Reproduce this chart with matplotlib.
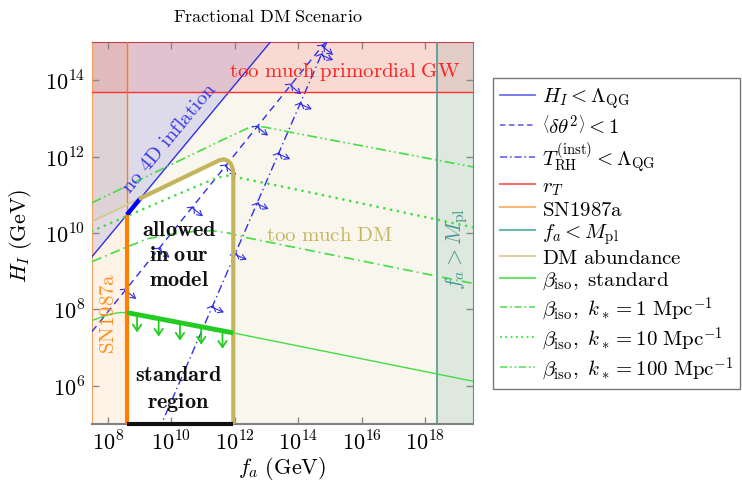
import numpy as np
import matplotlib
matplotlib.use('Agg')
import matplotlib.pyplot as plt
from matplotlib.lines import Line2D
from matplotlib.markers import MarkerStyle
from matplotlib.path import Path
from matplotlib.transforms import Affine2D
from matplotlib.ticker import NullLocator

plt.rcParams['mathtext.fontset'] = 'cm'
plt.rcParams['font.family'] = ['DejaVu Serif']

# ---------------- data (log10 of GeV values) ----------------
x_range = [7.5, 19.5]          # log10 f_a
y_range = [5.0, 15.0]          # log10 H_I
x_ticks = [8, 10, 12, 14, 16, 18]
y_ticks = [6, 8, 10, 12, 14]

hqg_logfa = [7.5, 13.5]        # H_I < Lambda_QG
hqg_logH = [9.38, 15.38]

dtheta_logfa = [7.5, 15.0]     # <dtheta^2> < 1
dtheta_logH = [7.42, 15.15]

trh_logfa = [9.6, 15.0]        # T_RH < Lambda_QG
trh_logH = [4.83, 15.2]

rT_logH = 13.68                # r_T
sn_logfa = 8.6                 # SN1987a
mpl_logfa = 18.38              # f_a < M_pl

dm_logfa = [7.5, 9.0, 10.5, 11.5, 11.65, 11.78, 11.88, 11.93, 11.95, 11.95]
dm_logH = [10.30, 10.90, 11.50, 11.90, 11.93, 11.89, 11.80, 11.68, 11.50, 5.0]

std_logfa = [7.5, 7.8, 8.1, 8.4, 8.64, 11.92, 19.5]
std_logH = [7.71, 7.80, 7.88, 7.92, 7.91, 7.39, 6.12]

k1_logfa = [7.5, 8.5, 9.25, 10.0, 10.7, 11.3, 11.8, 12.3, 19.5]
k1_logH = [9.25, 9.60, 9.85, 9.97, 10.04, 10.06, 10.00, 9.89, 8.68]

k10_logfa = [7.5, 10.5, 11.45, 11.75, 12.05, 14.05, 19.5]
k10_logH = [10.05, 11.12, 11.45, 11.50, 11.46, 11.12, 10.15]

k100_logfa = [7.5, 11.64, 12.45, 12.7, 12.95, 14.05, 19.5]
k100_logH = [10.79, 12.45, 12.76, 12.80, 12.77, 12.59, 11.73]

std_arrow_logfa = [8.92, 9.6, 10.27, 10.94, 11.61]
dtheta_mark_logfa = [8.55, 9.6, 10.65, 11.7, 12.7, 13.75, 14.75]
trh_mark_logfa = [11.28, 12.0, 12.69, 13.37, 14.05, 14.72]

legend_labels = [
    r"$H_I < \Lambda_{\rm QG}$",
    r"$\left\langle \delta\theta^2 \right\rangle < 1$",
    r"$T_{\rm RH}^{\rm (inst)} < \Lambda_{\rm QG}$",
    r"$r_T$",
    r"$\mathrm{SN1987a}$",
    r"$f_a < M_{\rm pl}$",
    r"$\mathrm{DM\ abundance}$",
    r"$\beta_{\rm iso},\ \mathrm{standard}$",
    r"$\beta_{\rm iso},\ k_* = 1\ \mathrm{Mpc}^{-1}$",
    r"$\beta_{\rm iso},\ k_* = 10\ \mathrm{Mpc}^{-1}$",
    r"$\beta_{\rm iso},\ k_* = 100\ \mathrm{Mpc}^{-1}$",
]

# ---------------- styles ----------------
BLUE = '#2f2fe6'
RED = '#ff3030'
ORANGE = '#ff8000'
TEAL = '#4a9a90'
OLIVE = '#c4b45c'
OLIVE_L = '#d6ca94'
GREEN = '#44dd44'

def P(a):
    return 10.0 ** np.asarray(a, dtype=float)

W, H = 742, 485
fig = plt.figure(figsize=(W / 100, H / 100), dpi=100)
ax = fig.add_axes([92 / W, 60 / H, 381 / W, 382 / H])
ax.set_xscale('log')
ax.set_yscale('log')
ax.set_xlim(P(x_range[0]), P(x_range[1]))
ax.set_ylim(P(y_range[0]), P(y_range[1]))

# ---------------- shaded regions ----------------
dm_poly = list(zip(dm_logfa, dm_logH)) + [(x_range[1], y_range[0]), (x_range[1], y_range[1]),
                                          (x_range[0], y_range[1])]
dm_poly = np.array(dm_poly)
ax.fill(P(dm_poly[:, 0]), P(dm_poly[:, 1]), color='#c8bd70', alpha=0.12, lw=0, zorder=0)
ax.axvspan(P(x_range[0]), P(sn_logfa), color=ORANGE, alpha=0.09, lw=0, zorder=0)
ax.axvspan(P(mpl_logfa), P(x_range[1]), color=TEAL, alpha=0.15, lw=0, zorder=0)
bp = np.array([(hqg_logfa[0], hqg_logH[0]), (hqg_logfa[1], hqg_logH[1]), (hqg_logfa[0], hqg_logH[1])])
ax.fill(P(bp[:, 0]), P(bp[:, 1]), color='#2020d0', alpha=0.12, lw=0, zorder=0)
ax.axhspan(P(rT_logH), P(y_range[1]), color='#ff2020', alpha=0.13, lw=0, zorder=0)

# ---------------- lines ----------------
ax.plot(P(hqg_logfa), P(hqg_logH), color=BLUE, lw=1.0, zorder=3)
ax.plot(P(dtheta_logfa), P(dtheta_logH), color=BLUE, lw=1.0, ls=(0, (5, 3.5)), zorder=3)
ax.plot(P(trh_logfa), P(trh_logH), color=BLUE, lw=1.0, ls=(0, (6, 2.5, 1, 2.5)), zorder=3)
ax.axhline(P(rT_logH), color=RED, lw=1.0, zorder=3)
ax.axvline(P(sn_logfa), color=ORANGE, lw=1.0, zorder=3)
ax.axvline(P(mpl_logfa), color=TEAL, lw=1.2, zorder=3)

ax.plot(P(dm_logfa), P(dm_logH), color=OLIVE_L, lw=1.5, zorder=3)

ax.plot(P(k1_logfa), P(k1_logH), color=GREEN, lw=1.2, ls=(0, (6, 2.5, 1, 2.5)), zorder=3)
ax.plot(P(k10_logfa), P(k10_logH), color=GREEN, lw=2.0, ls=(0, (0.01, 2.5)), zorder=3,
        dash_capstyle='round')
ax.plot(P(k100_logfa), P(k100_logH), color=GREEN, lw=1.2, ls=(0, (6, 2, 1, 2, 1, 2)), zorder=3)
ax.plot(P(std_logfa), P(std_logH), color=GREEN, lw=1.0, zorder=3)

# allowed-region boundaries
grid = np.linspace(sn_logfa, dm_logfa[-3], 2000)
hqg_g = np.interp(grid, hqg_logfa, hqg_logH)
dm_g = np.interp(grid, dm_logfa[:-1], dm_logH[:-1])
cross = grid[np.argmax(hqg_g >= dm_g)]
ax.plot(P([sn_logfa, cross]), P(np.interp([sn_logfa, cross], hqg_logfa, hqg_logH)),
        color='#0000ff', lw=3.2, zorder=5, solid_capstyle='butt')
thick_fa = [cross] + [v for v in dm_logfa if v > cross]
thick_H = [float(np.interp(cross, dm_logfa[:-1], dm_logH[:-1]))] + \
    [h for v, h in zip(dm_logfa, dm_logH) if v > cross]
ax.plot(P(thick_fa), P(thick_H), color=OLIVE, lw=3.0, zorder=5, solid_joinstyle='round')
ax.plot(P([sn_logfa, sn_logfa]), P([y_range[0], np.interp(sn_logfa, hqg_logfa, hqg_logH)]),
        color=ORANGE, lw=3.0, zorder=5, solid_capstyle='butt')
ax.plot(P([sn_logfa, dm_logfa[-1]]), P([y_range[0], y_range[0]]), color='#111111', lw=3.0,
        zorder=6, clip_on=False, solid_capstyle='butt')
sg = np.linspace(sn_logfa, dm_logfa[-1], 50)
ax.plot(P(sg), P(np.interp(sg, std_logfa, std_logH)), color='#22cc22', lw=3.5, zorder=5,
        solid_capstyle='butt')

# green arrows
for a in std_arrow_logfa:
    h0 = np.interp(a, std_logfa, std_logH)
    ax.annotate('', xy=(P(a), P(h0 - 0.47)), xytext=(P(a), P(h0)),
                arrowprops=dict(arrowstyle='->,head_length=0.45,head_width=0.3', color='#22cc22',
                                lw=1.3, shrinkA=0, shrinkB=0), zorder=6)

# blue decorations
def decorate(fa_list, lfa, lH, length):
    td = ax.transData
    inv = td.inverted()
    for a in fa_list:
        h = np.interp(a, lfa, lH)
        p0 = td.transform((P(a), P(h)))
        p1 = td.transform((P(a + 0.1), P(np.interp(a + 0.1, lfa, lH))))
        d = (p1 - p0) / np.hypot(*(p1 - p0))
        ang = np.degrees(np.arctan2(d[1], d[0]))
        perp = np.array([d[1], -d[0]])
        tip = inv.transform(p0 + perp * length)
        ax.annotate('', xy=tuple(tip), xytext=(P(a), P(h)),
                    arrowprops=dict(arrowstyle='->,head_length=0.35,head_width=0.2', color=BLUE,
                                    lw=0.8, shrinkA=0, shrinkB=0), zorder=4)
        chev = Path([(-0.5, -0.3), (0, 0.2), (0.5, -0.3)], [Path.MOVETO, Path.LINETO, Path.LINETO])
        ms = MarkerStyle(chev, fillstyle='none', transform=Affine2D().rotate_deg(ang - 90))
        ax.plot([P(a)], [P(h)], marker=ms, ms=7, mec=BLUE, mfc='none', mew=0.8, ls='none', zorder=4)

decorate(dtheta_mark_logfa, dtheta_logfa, dtheta_logH, 14)
decorate(trh_mark_logfa, trh_logfa, trh_logH, 13)

# ---------------- texts ----------------
ax.text(P(15.46), P(14.24), r"$\mathrm{too\ much\ primordial\ GW}$", color='#ff2020', fontsize=15,
        ha='center', va='center', zorder=7)
td = ax.transData
q0 = td.transform((P(hqg_logfa[0]), P(hqg_logH[0])))
q1 = td.transform((P(hqg_logfa[1]), P(hqg_logH[1])))
ang_b = np.degrees(np.arctan2(q1[1] - q0[1], q1[0] - q0[0]))
ax.text(P(9.93), P(12.50), r"$\mathrm{no\ 4D\ inflation}$", color='#3c3ce6', fontsize=15,
        rotation=ang_b, rotation_mode='anchor', ha='center', va='center', zorder=7)
ax.text(P(14.99), P(9.97), r"$\mathrm{too\ much\ DM}$", color='#c8b560', fontsize=15,
        ha='center', va='center', zorder=7)
ax.text(P(10.24), P(9.45), r"$\mathbf{allowed}$" + "\n" + r"$\mathbf{in\ our}$" + "\n" + r"$\mathbf{model}$",
        color='#111111', fontsize=16, ha='center', va='center', linespacing=1.2, zorder=7)
ax.text(P(10.23), P(5.95), r"$\mathbf{standard}$" + "\n" + r"$\mathbf{region}$",
        color='#111111', fontsize=16, ha='center', va='center', linespacing=1.3, zorder=7)
ax.text(P(8.03), P(7.91), r"$\mathrm{SN1987a}$", color='#ff8c1a', fontsize=15, rotation=90,
        ha='center', va='center', zorder=7)
ax.text(P(18.97), P(9.6), r"$f_a > M_{\rm pl}$", color=TEAL, fontsize=16, rotation=90,
        ha='center', va='center', zorder=7)

# ---------------- axes styling ----------------
ax.set_xticks(P(x_ticks))
ax.set_xticklabels([rf"$10^{{{t}}}$" for t in x_ticks])
ax.set_yticks(P(y_ticks))
ax.set_yticklabels([rf"$10^{{{t}}}$" for t in y_ticks])
ax.xaxis.set_minor_locator(NullLocator())
ax.yaxis.set_minor_locator(NullLocator())
ax.tick_params(which='major', direction='in', top=True, right=True, length=5, width=1,
               color='#888888', labelsize=16, pad=5)
ax.spines['top'].set_color('#c83c50')
ax.spines['left'].set_color('#f0a060')
ax.spines['right'].set_color(TEAL)
ax.spines['bottom'].set_color('#808080')
ax.spines['bottom'].set_linewidth(1.5)

fig.text(268 / W, 1 - 17 / H, r"$\mathrm{Fractional\ DM\ Scenario}$", fontsize=13,
         ha='center', va='center')
fig.text(282 / W, 1 - 469 / H, r"$f_a\ \mathrm{(GeV)}$", fontsize=16, ha='center', va='center')
fig.text(21 / W, 1 - 236 / H, r"$H_I\ \mathrm{(GeV)}$", fontsize=16, ha='center', va='center',
         rotation=90)

# ---------------- legend ----------------
handles = [
    Line2D([], [], color='#7070f0', lw=1.3),
    Line2D([], [], color='#7070f0', lw=1.3, ls=(0, (3, 2))),
    Line2D([], [], color='#7070f0', lw=1.3, ls=(0, (4, 1.5, 1, 1.5))),
    Line2D([], [], color='#f07070', lw=1.5),
    Line2D([], [], color='#fbb870', lw=1.5),
    Line2D([], [], color='#6ab8b0', lw=1.5),
    Line2D([], [], color='#dcd0a0', lw=1.5),
    Line2D([], [], color='#70e070', lw=1.5),
    Line2D([], [], color='#70e070', lw=1.3, ls=(0, (4, 1.5, 1, 1.5))),
    Line2D([], [], color='#50e050', lw=1.6, ls=(0, (0.8, 1.6))),
    Line2D([], [], color='#70e070', lw=1.3, ls=(0, (4, 1.5, 1, 1.5, 1, 1.5))),
]
leg = fig.legend(handles, legend_labels, loc='upper left', bbox_to_anchor=(492.7 / W, 1 - 79.3 / H),
                 frameon=True, fancybox=False, edgecolor='#555555', fontsize=15, handlelength=1.7,
                 handletextpad=0.3, labelspacing=0.12, borderpad=0.35, borderaxespad=0)
leg.get_frame().set_linewidth(1.0)

fig.savefig('out.png', dpi=100)
